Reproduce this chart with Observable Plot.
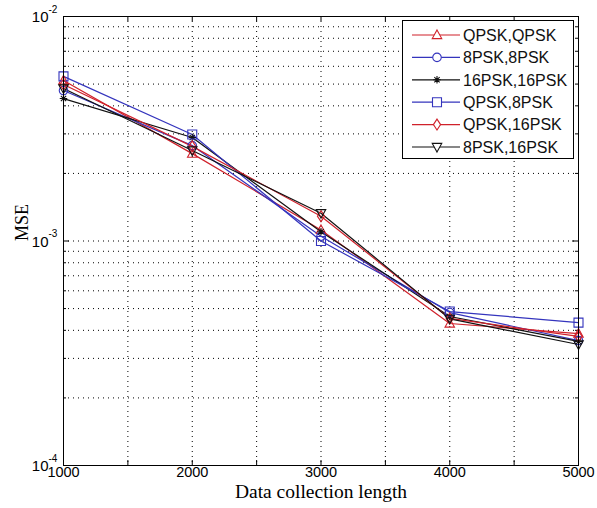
<!DOCTYPE html>
<html><head><meta charset="utf-8">
<script src="https://cdn.jsdelivr.net/npm/d3@7"></script>
<script src="https://cdn.jsdelivr.net/npm/@observablehq/plot@0.6"></script>
<style>body{margin:0;background:#fff} svg{display:block}</style>
</head><body><div id="chart"></div>
<script>
// ---- data ----
const lengths = [1000, 2000, 3000, 4000, 5000];
const seriesNames = ["QPSK,QPSK", "8PSK,8PSK", "16PSK,16PSK", "QPSK,8PSK", "QPSK,16PSK", "8PSK,16PSK"];
const mseQPSK_QPSK   = [5.19e-3, 2.45e-3, 1.12e-3, 4.29e-4, 3.87e-4];
const mse8PSK_8PSK   = [4.68e-3, 2.66e-3, 1.05e-3, 4.80e-4, 3.60e-4];
const mse16PSK_16PSK = [4.31e-3, 2.89e-3, 1.10e-3, 4.61e-4, 3.57e-4];
const mseQPSK_8PSK   = [5.41e-3, 2.98e-3, 1.00e-3, 4.85e-4, 4.33e-4];
const mseQPSK_16PSK  = [4.98e-3, 2.64e-3, 1.29e-3, 4.52e-4, 3.76e-4];
const mse8PSK_16PSK  = [4.78e-3, 2.53e-3, 1.33e-3, 4.50e-4, 3.46e-4];
const seriesValues = [mseQPSK_QPSK, mse8PSK_8PSK, mse16PSK_16PSK, mseQPSK_8PSK, mseQPSK_16PSK, mse8PSK_16PSK];

const xTickLabels = [1000, 2000, 3000, 4000, 5000];
const xTicks = [1500, 2000, 2500, 3000, 3500, 4000, 4500];
const yMajor = [1e-4, 1e-3, 1e-2];
const yExponents = ["-4", "-3", "-2"];
const yMinor = [2e-4,3e-4,4e-4,5e-4,6e-4,7e-4,8e-4,9e-4,2e-3,3e-3,4e-3,5e-3,6e-3,7e-3,8e-3,9e-3];

// ---- styling ----
const RED = "#d0212b", BLUE = "#3434bd", BLACK = "#111";
const W = 597, H = 508, mL = 63, mR = 19, mT = 16, mB = 43;
const innerW = W - mL - mR, innerH = H - mT - mB;
const sansFont = "Arial, 'Liberation Sans', sans-serif";
const serifFont = "'Times New Roman', 'Liberation Serif', serif";

const sym = fn => ({draw(ctx, size) { const r = Math.sqrt(size / Math.PI); fn(ctx, r); }});
const triUp = sym((c, r) => { c.moveTo(0, -r * 1.0); c.lineTo(r * 0.95, r * 0.72); c.lineTo(-r * 0.95, r * 0.72); c.closePath(); });
const triDown = sym((c, r) => { c.moveTo(0, r * 1.0); c.lineTo(r * 0.95, -r * 0.72); c.lineTo(-r * 0.95, -r * 0.72); c.closePath(); });
const circ = sym((c, r) => { c.moveTo(r * 0.85, 0); c.arc(0, 0, r * 0.85, 0, 2 * Math.PI); });
const sq = sym((c, r) => { const h = r * 0.9; c.moveTo(-h, -h); c.lineTo(h, -h); c.lineTo(h, h); c.lineTo(-h, h); c.closePath(); });
const dia = sym((c, r) => { c.moveTo(0, -r * 1.1); c.lineTo(r * 0.72, 0); c.lineTo(0, r * 1.1); c.lineTo(-r * 0.72, 0); c.closePath(); });
const ast = sym((c, r) => { const a = r * 0.75, b = a * 0.7071; c.moveTo(-a, 0); c.lineTo(a, 0); c.moveTo(0, -a); c.lineTo(0, a); c.moveTo(-b, -b); c.lineTo(b, b); c.moveTo(-b, b); c.lineTo(b, -b); });

const seriesStyle = [
  {color: RED, symbol: triUp},
  {color: BLUE, symbol: circ},
  {color: BLACK, symbol: ast},
  {color: BLUE, symbol: sq},
  {color: RED, symbol: dia},
  {color: BLACK, symbol: triDown}
];

const rows = [];
seriesNames.forEach((name, s) => lengths.forEach((x, i) => rows.push({series: name, s, x, y: seriesValues[s][i]})));

const seriesMarks = [];
seriesNames.forEach((name, s) => {
  const d = rows.filter(r => r.s === s);
  seriesMarks.push(Plot.line(d, {x: "x", y: "y", stroke: seriesStyle[s].color, strokeWidth: 1.2}));
});
seriesNames.forEach((name, s) => {
  const d = rows.filter(r => r.s === s);
  seriesMarks.push(Plot.dot(d, {x: "x", y: "y", r: 5, symbol: seriesStyle[s].symbol, stroke: seriesStyle[s].color, fill: "none", strokeWidth: 1.1}));
});

const svg = Plot.plot({
  width: W, height: H,
  marginLeft: mL, marginRight: mR, marginTop: mT, marginBottom: mB,
  style: {fontFamily: sansFont, fontSize: "14px", color: "#000", background: "#fff"},
  x: {domain: [1000, 5000], axis: null},
  y: {type: "log", domain: [1e-4, 1e-2], axis: null},
  marks: [
    // dotted grid
    Plot.ruleX(xTicks, {x: d => d, stroke: "#000", strokeDasharray: "1,4", strokeWidth: 1}),
    Plot.ruleY(yMinor.concat([1e-3]), {y: d => d, stroke: "#000", strokeDasharray: "1,4", strokeWidth: 1}),
    // inward ticks
    Plot.tickX(xTicks, {x: d => d, insetTop: innerH - 5, stroke: "#000"}),
    Plot.tickX(xTicks, {x: d => d, insetBottom: innerH - 5, stroke: "#000"}),
    Plot.tickY(yMajor, {y: d => d, insetRight: innerW - 6, stroke: "#000"}),
    Plot.tickY(yMajor, {y: d => d, insetLeft: innerW - 6, stroke: "#000"}),
    Plot.tickY(yMinor, {y: d => d, insetRight: innerW - 3, stroke: "#000"}),
    Plot.tickY(yMinor, {y: d => d, insetLeft: innerW - 3, stroke: "#000"}),
    ...seriesMarks,
    Plot.frame({stroke: "#000", strokeWidth: 1}),
    // axes labels
    Plot.text(xTickLabels, {x: d => d, frameAnchor: "bottom", text: d => String(d), dy: 11, fontSize: 14.5}),
    Plot.text(yMajor, {y: d => d, frameAnchor: "left", text: () => "10", textAnchor: "end", dx: -15, dy: 1, fontSize: 15}),
    Plot.text(yMajor, {y: d => d, frameAnchor: "left", text: (d, i) => yExponents[i], textAnchor: "start", dx: -15, dy: -7, fontSize: 10}),
    Plot.text(["MSE"], {text: d => d, frameAnchor: "left", dx: -41, rotate: -90, fontFamily: serifFont, fontSize: 18}),
    Plot.text(["Data collection length"], {text: d => d, frameAnchor: "bottom", dy: 32.5, fontFamily: serifFont, fontSize: 19.5})
  ]
});

// legend
const lg = d3.select(svg).append("g").attr("class", "legend").attr("text-anchor", "start");
const bx = 402, by = 20, bw = 171, bh = 138, rowY0 = 35, rowDy = 22.4;
lg.append("rect").attr("x", bx + 0.5).attr("y", by + 0.5).attr("width", bw).attr("height", bh)
  .attr("fill", "#fff").attr("stroke", "#000").attr("stroke-width", 1);
seriesNames.forEach((name, s) => {
  const y = rowY0 + s * rowDy;
  const st = seriesStyle[s];
  lg.append("line").attr("x1", 412).attr("x2", 460).attr("y1", y).attr("y2", y)
    .attr("stroke", st.color).attr("stroke-width", 1.2);
  const p = d3.path();
  st.symbol.draw(p, 25 * Math.PI);
  lg.append("path").attr("d", p.toString()).attr("transform", `translate(437,${y})`)
    .attr("fill", "#fff").attr("stroke", st.color).attr("stroke-width", 1.1);
  lg.append("text").attr("x", 463).attr("y", y).attr("dy", "0.36em").attr("text-anchor", "start")
    .attr("font-family", sansFont).attr("font-size", 16).attr("fill", "#111").text(name);
});

document.getElementById("chart").appendChild(svg);
</script>
</body></html>
